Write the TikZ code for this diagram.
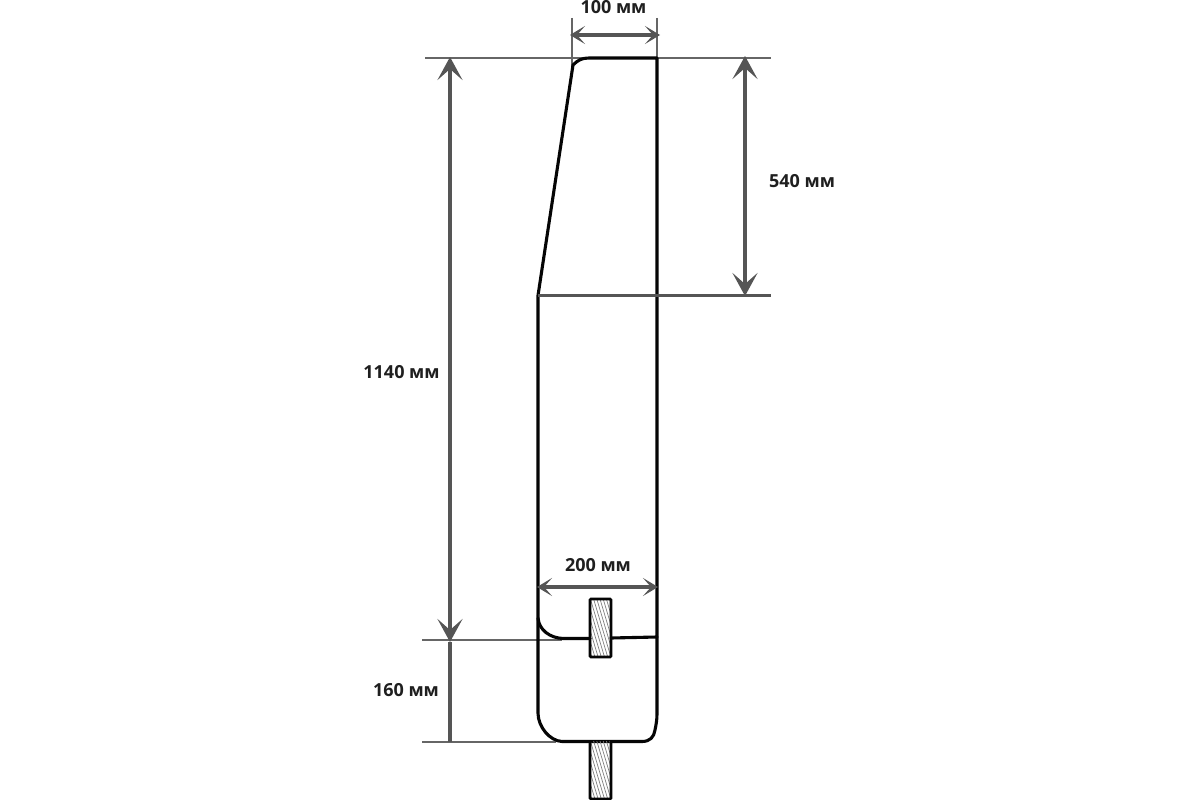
\documentclass[tikz,border=0pt]{standalone}
\usepackage{fontspec}
\setmainfont{Open Sans}
\newfontfamily\dimfont{Open Sans}
\usetikzlibrary{arrows.meta}
\definecolor{dimgray}{HTML}{555555}
\definecolor{thingray}{HTML}{666666}
\definecolor{bodyblack}{HTML}{050505}
\tikzset{
  bigbarb/.tip={Stealth[length=23pt,width=25pt,inset=11pt]},
  smallbarb/.tip={Stealth[length=15pt,width=18pt,inset=8pt]},
  dimarrow/.style={draw=dimgray,line width=4.2pt,{bigbarb}-{bigbarb}},
  dimsmall/.style={draw=dimgray,line width=3.6pt,{smallbarb}-{smallbarb}},
  dimlower/.style={draw=dimgray,line width=4.2pt},
  extline/.style={draw=thingray,line width=1.6pt},
  sectionline/.style={draw=dimgray,line width=2.4pt},
  outline/.style={draw=bodyblack,line width=3.1pt,line join=round,line cap=round},
  hatchline/.style={draw=gray,line width=0.7pt},
  dimlabel/.style={font=\dimfont\bfseries\fontsize{18}{22}\selectfont,text=black!88,inner sep=0pt}
}
\begin{document}
\begin{tikzpicture}[x=1pt,y=-1pt]
\useasboundingbox (0,0) rectangle (1200,800);
\fill[white] (0,0) rectangle (1200,800);
% coordinates
\coordinate (extTopL) at (425,58);
\coordinate (extTopR) at (771,58);
\coordinate (extMidL) at (538,295.5);
\coordinate (extMidR) at (771,295.5);
\coordinate (extA) at (572,18);
\coordinate (extAe) at (572,68);
\coordinate (extB) at (657,18);
\coordinate (extBe) at (657,58);
\coordinate (ext3L) at (422,640);
\coordinate (ext3R) at (562,640);
\coordinate (ext4L) at (422,742);
\coordinate (ext4R) at (556,742);
\coordinate (a1s) at (450,57);
\coordinate (a1e) at (450,642);
\coordinate (a1f) at (450,742);
\coordinate (a2s) at (745,56);
\coordinate (a2e) at (745,296);
\coordinate (a3s) at (570,35);
\coordinate (a3e) at (660,35);
\coordinate (a4s) at (537,587);
\coordinate (a4e) at (658,587);
% extension lines
\draw[extline] (extTopL) -- (extTopR);
\draw[extline] (extA) -- (extAe);
\draw[extline] (extB) -- (extBe);
\draw[extline] (ext3L) -- (ext3R);
\draw[extline] (ext4L) -- (ext4R);
% body
\draw[outline] (657,58) -- (589,58) .. controls (582,58) and (578,60) .. (573,65) -- (538,295.5) -- (538,713)
  .. controls (538,727) and (550,741) .. (562,741.5) -- (642,741.5)
  .. controls (650,741.5) and (654,737) .. (655,730) .. controls (656,725) and (657,720) .. (657,714) -- cycle;
\draw[outline] (538,618) .. controls (539,630) and (550,638) .. (563,638.5) -- (590,638.5);
\draw[outline] (611,638) -- (657,637);
\draw[sectionline] (extMidL) -- (extMidR);
% hatched keys
\begin{scope}
\clip (590,599) rectangle (611,657);
\foreach \i in {0,...,24}{\draw[hatchline] (570+3.2*\i,595) -- (590+3.2*\i,662);}
\end{scope}
\draw[draw=bodyblack,line width=2.6pt,rounded corners=1pt] (590,599) rectangle (611,657);
\begin{scope}
\clip (590,741) rectangle (611,799);
\foreach \i in {0,...,24}{\draw[hatchline] (570+3.2*\i,737) -- (590+3.2*\i,804);}
\end{scope}
\draw[draw=bodyblack,line width=2.6pt,rounded corners=1pt] (590,741) -- (590,799) -- (611,799) -- (611,741);
% dimension arrows
\draw[dimarrow] (a1s) -- (a1e);
\draw[dimlower] (a1e) -- (a1f);
\draw[dimarrow] (a2s) -- (a2e);
\draw[dimsmall] (a3s) -- (a3e);
\draw[dimsmall] (a4s) -- (a4e);
% labels
\node[dimlabel] (l100) at (613.5,7) {100 мм};
\node[dimlabel] (l540) at (802,181) {540 мм};
\node[dimlabel] (l1140) at (401.5,372) {1140 мм};
\node[dimlabel] (l200) at (598,565) {200 мм};
\node[dimlabel] (l160) at (406,690) {160 мм};
\end{tikzpicture}
\end{document}
